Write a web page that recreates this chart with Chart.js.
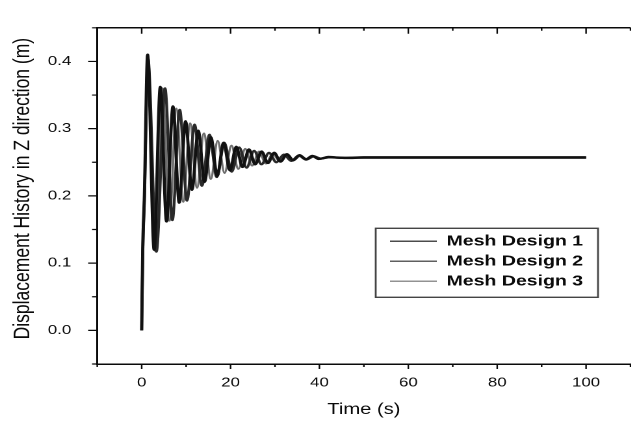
<!DOCTYPE html>
<html>
<head>
<meta charset="utf-8">
<script src="https://cdn.jsdelivr.net/npm/chart.js@4.4.1/dist/chart.umd.min.js"></script>
<style>
  html, body { margin: 0; padding: 0; background: #fff; overflow: hidden; }
  #wrap { width: 496px; height: 421px; transform: scaleX(1.3); transform-origin: 0 0; }
</style>
</head>
<body>
<div id="wrap"><canvas id="grafica" width="496" height="421"></canvas></div>
<script>
// values (peaks / troughs of each run)
const seriesNames = ["Mesh Design 1", "Mesh Design 2", "Mesh Design 3"];

const mesh1Time = [0, 0.22, 0.6, 1.33, 2.8, 4.18, 5.6, 7.03, 8.45, 9.88, 11.3, 12.73, 14.15, 15.58, 17.0, 18.43, 19.85, 21.28, 22.7, 24.13, 25.55, 26.98, 28.4, 29.83, 31.25, 32.68, 34.1, 35.5, 37.0, 38.4, 39.8, 42, 46, 50, 60, 70, 80, 90, 100];
const mesh1Disp = [0, 0.117, 0.2, 0.41, 0.12, 0.362, 0.162, 0.333, 0.19, 0.311, 0.209, 0.297, 0.221, 0.287, 0.23, 0.279, 0.238, 0.273, 0.243, 0.269, 0.247, 0.266, 0.249, 0.264, 0.251, 0.262, 0.253, 0.2605, 0.2545, 0.2595, 0.255, 0.2575, 0.2565, 0.257, 0.257, 0.257, 0.257, 0.257, 0.257];

const mesh2Time = [0, 0.25, 0.65, 1.4, 3.3, 5.25, 6.9, 8.55, 10.2, 11.9, 13.55, 15.25, 16.9, 18.6, 20.25, 21.95, 23.6, 25.3, 26.95, 28.65, 30.3, 32.0, 33.65, 35.35, 37.0, 38.7, 40.3, 42, 45, 50, 60, 80, 100];
const mesh2Disp = [0, 0.115, 0.2, 0.405, 0.117, 0.36, 0.164, 0.328, 0.193, 0.306, 0.215, 0.291, 0.228, 0.279, 0.236, 0.272, 0.242, 0.267, 0.247, 0.264, 0.25, 0.2615, 0.252, 0.26, 0.254, 0.259, 0.2555, 0.258, 0.2565, 0.2575, 0.2575, 0.2575, 0.2575];

const mesh3Time = [0, 0.23, 0.62, 1.36, 3.05, 4.7, 6.25, 7.8, 9.35, 10.9, 12.45, 14.0, 15.55, 17.1, 18.65, 20.2, 21.75, 23.3, 24.85, 26.4, 27.95, 29.5, 31.05, 32.6, 34.15, 35.7, 37.25, 38.8, 40.4, 43, 47, 60, 80, 100];
const mesh3Disp = [0, 0.116, 0.2, 0.408, 0.118, 0.36, 0.163, 0.33, 0.191, 0.308, 0.212, 0.293, 0.225, 0.282, 0.234, 0.275, 0.24, 0.27, 0.245, 0.266, 0.248, 0.263, 0.251, 0.261, 0.253, 0.2595, 0.2545, 0.2585, 0.2555, 0.2575, 0.2565, 0.2565, 0.2565, 0.2565];

const xTicksMajor = [0, 20, 40, 60, 80, 100];
const yTicksMajor = [0.0, 0.1, 0.2, 0.3, 0.4];

const FONT = "'Liberation Sans', Arial, sans-serif";
const INK = "#0a0a0a";

function puntos(t, v) {
  return t.map((x, i) => ({ x: x, y: v[i] }));
}

// top frame line, small ticks, legend box
const marcoPlugin = {
  id: "marco",
  afterLayout(chart) {
    const lg = chart.legend;
    lg.left = 295; lg.top = 228.7;
    lg.width = 200; lg.height = 100;
    lg.right = lg.left + lg.width; lg.bottom = lg.top + lg.height;
  },
  afterDraw(chart) {
    const { ctx, chartArea: a, scales } = chart;
    const x = scales.x, y = scales.y;
    ctx.save();
    ctx.strokeStyle = INK;
    ctx.lineWidth = 1.5;
    ctx.beginPath();
    ctx.moveTo(a.left, a.top);
    ctx.lineTo(a.right, a.top);
    ctx.stroke();

    ctx.lineWidth = 1.2;
    ctx.beginPath();
    x.ticks.forEach(t => {
      const px = x.getPixelForValue(t.value);
      const major = xTicksMajor.includes(Math.round(t.value));
      ctx.moveTo(px, a.bottom);
      ctx.lineTo(px, a.bottom + (major ? 5 : 3));
      ctx.moveTo(px, a.top);
      ctx.lineTo(px, a.top + (major ? 6 : 3));
    });
    y.ticks.forEach(t => {
      const py = y.getPixelForValue(t.value);
      const major = yTicksMajor.some(v => Math.abs(v - t.value) < 1e-6);
      ctx.moveTo(a.left, py);
      ctx.lineTo(a.left - (major ? 7 : 4), py);
    });
    ctx.stroke();

    // legend frame
    ctx.strokeStyle = "#444";
    ctx.lineWidth = 1.4;
    ctx.strokeRect(289, 228.3, 171, 69);
    ctx.restore();
  }
};

const comun = { pointRadius: 0, fill: false, cubicInterpolationMode: "monotone" };

new Chart(document.getElementById("grafica"), {
  type: "line",
  data: {
    datasets: [
      Object.assign({ label: seriesNames[0], data: puntos(mesh1Time, mesh1Disp), borderColor: "#111", borderWidth: 2.4 }, comun),
      Object.assign({ label: seriesNames[1], data: puntos(mesh2Time, mesh2Disp), borderColor: "#2a2a2a", borderWidth: 2.2 }, comun),
      Object.assign({ label: seriesNames[2], data: puntos(mesh3Time, mesh3Disp), borderColor: "#6e6e6e", borderWidth: 1.8 }, comun)
    ]
  },
  options: {
    responsive: false,
    animation: false,
    devicePixelRatio: 2,
    layout: { padding: { top: 8, right: 4.9, left: 0, bottom: 0 } },
    plugins: {
      tooltip: { enabled: false },
      legend: {
        position: "chartArea",
        align: "start",
        labels: {
          usePointStyle: true,
          pointStyle: "line",
          pointStyleWidth: 36,
          padding: 5,
          color: INK,
          font: { family: FONT, size: 15, weight: "bold" },
          generateLabels: chart =>
            Chart.defaults.plugins.legend.labels.generateLabels(chart).map(item =>
              Object.assign(item, { lineWidth: 1.2 }))
        }
      }
    },
    scales: {
      x: {
        type: "linear",
        min: -10,
        max: 110,
        afterFit: s => { s.height = 57; },
        border: { display: true, color: INK, width: 1.5 },
        grid: { drawOnChartArea: false, drawTicks: false },
        ticks: {
          stepSize: 10,
          padding: 11,
          color: INK,
          font: { family: FONT, size: 13 },
          maxRotation: 0,
          autoSkip: false,
          callback: v => (xTicksMajor.includes(v) ? String(v) : "")
        },
        title: {
          display: true,
          text: "Time (s)",
          color: INK,
          font: { family: FONT, size: 15.5 },
          padding: { top: 2, bottom: 2 }
        }
      },
      y: {
        min: -0.05,
        max: 0.45,
        afterFit: s => { s.width = 74.8; },
        border: { display: true, color: INK, width: 1.5 },
        grid: { drawOnChartArea: false, drawTicks: false },
        ticks: {
          stepSize: 0.05,
          padding: 20,
          color: INK,
          font: { family: FONT, size: 13 },
          autoSkip: false,
          callback: v => (yTicksMajor.some(m => Math.abs(m - v) < 1e-6) ? v.toFixed(1) : "")
        },
        title: {
          display: true,
          text: "   Displacement History in Z direction (m)",
          color: INK,
          font: { family: FONT, size: 17.5 },
          padding: { top: 7, bottom: 0 }
        }
      }
    }
  },
  plugins: [marcoPlugin]
});
</script>
</body>
</html>
